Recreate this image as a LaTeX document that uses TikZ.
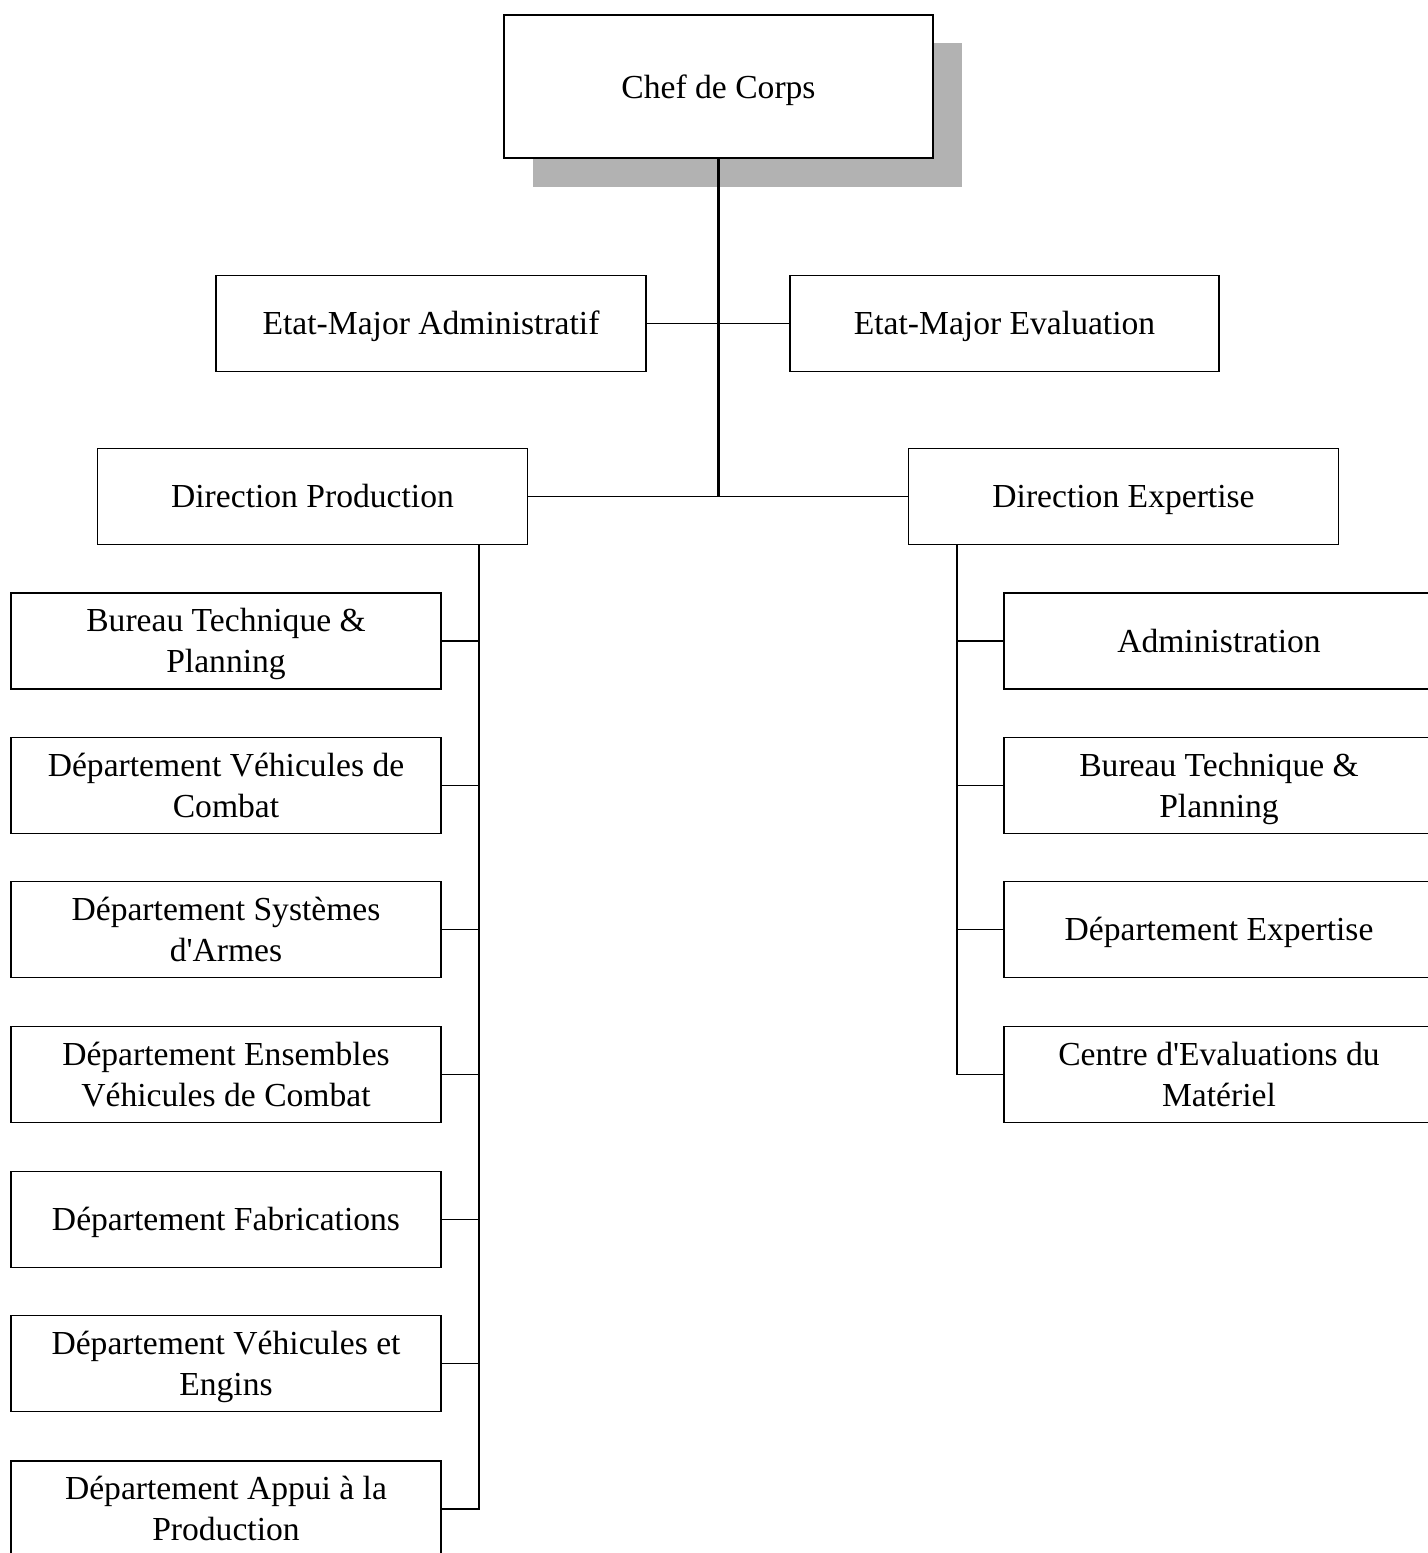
\documentclass[tikz,border=0pt]{standalone}
\usepackage{fontspec}
\setmainfont{Liberation Serif}[Ligatures=TeXOff]
\newcommand\twolines[2]{\begin{tabular}[t]{@{}c@{}}#1\\#2\end{tabular}}
\begin{document}
\begin{tikzpicture}[x=0.5pt,y=-0.5pt,
  box/.style={draw, line width=0.75pt, fill=white, minimum width=215pt, minimum height=48pt, inner sep=0pt, font=\fontsize{16.8}{20.5}\selectfont, text height=13.5pt, text depth=2.5pt},
  twobox/.style={box, text height=14pt, text depth=23.5pt},
  conn/.style={line width=0.75pt},
  thick conn/.style={line width=1.5pt}]
\useasboundingbox (0,0) rectangle (1428,1553);
\clip (0,0) rectangle (1428,1553);
% shadow of top box
\fill[black!30] (533,43) rectangle (962,187);
\node[box, minimum width=214.5pt, minimum height=71.5pt, text height=14pt, text depth=2.5pt] (chef) at (718.5,86.5) {Chef de Corps};
\node[box] (ema) at (431,323.5) {Etat-Major Administratif};
\node[box, minimum width=214.5pt] (eme) at (1004.5,323.5) {Etat-Major Evaluation};
\node[box] (dp) at (312.5,496.5) {Direction Production};
\node[box] (de) at (1123.5,496.5) {Direction Expertise};
\coordinate (hub) at (718,497);
% left column
\node[twobox] (l1) at (226,641) {\twolines{Bureau Technique \&}{Planning}};
\node[twobox] (l2) at (226,785.5) {\twolines{Département Véhicules de}{Combat}};
\node[twobox] (l3) at (226,929.5) {\twolines{Département Systèmes}{d'Armes}};
\node[twobox] (l4) at (226,1074.5) {\twolines{Département Ensembles}{Véhicules de Combat}};
\node[box] (l5) at (226,1219.5) {Département Fabrications};
\node[twobox] (l6) at (226,1363.5) {\twolines{Département Véhicules et}{Engins}};
\node[twobox] (l7) at (226,1509) {\twolines{Département Appui à la}{Production}};
% right column
\node[box] (r1) at (1219,641) {Administration};
\node[twobox] (r2) at (1219,785.5) {\twolines{Bureau Technique \&}{Planning}};
\node[box] (r3) at (1219,929.5) {Département Expertise};
\node[twobox] (r4) at (1219,1074.5) {\twolines{Centre d'Evaluations du}{Matériel}};
% connectors
\draw[conn] (ema.east) -- (eme.west);
\draw[conn] (dp.east) -- (de.west);
\draw[thick conn] (chef.south -| hub) -- (hub);
\draw[conn] (479,0 |- dp.south) |- (l7.east);
\foreach \n in {l1,l2,l3,l4,l5,l6} \draw[conn] (\n.east) -- (479,0 |- \n.east);
\draw[conn] (957,0 |- de.south) |- (r4.west);
\foreach \n in {r1,r2,r3} \draw[conn] (\n.west) -- (957,0 |- \n.west);
\end{tikzpicture}
\end{document}
